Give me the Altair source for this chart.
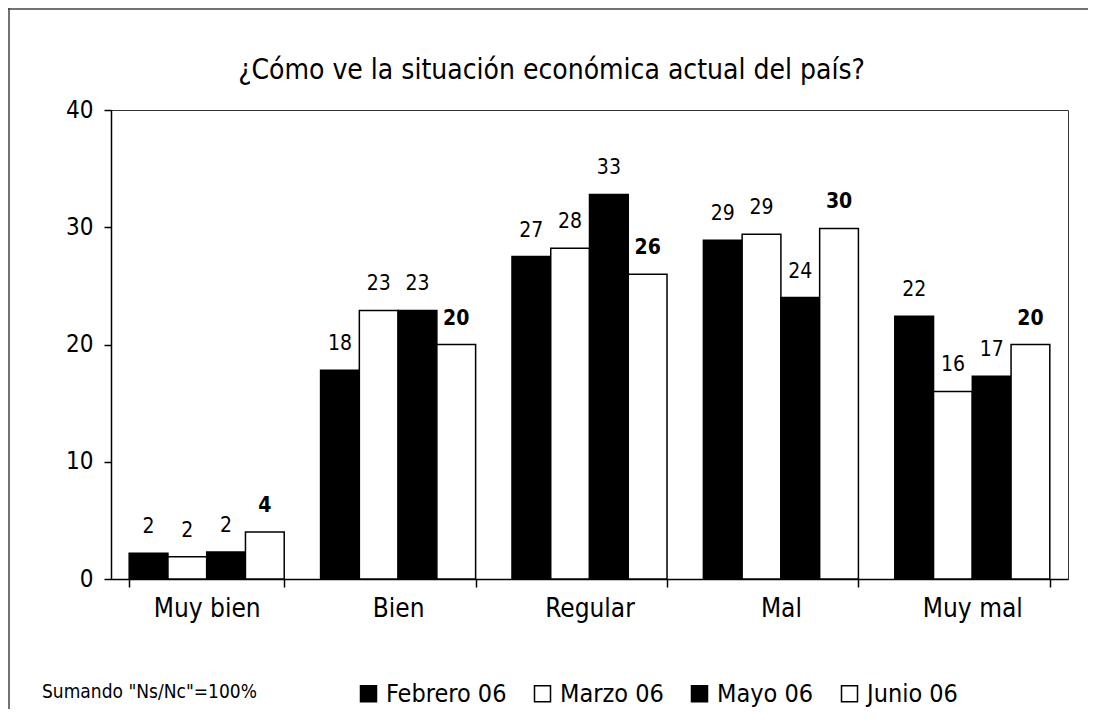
import altair as alt
import pandas as pd

categories = ["Muy bien", "Bien", "Regular", "Mal", "Muy mal"]
series = ["Febrero 06", "Marzo 06", "Mayo 06", "Junio 06"]
febrero = [2.2, 17.8, 27.5, 28.9, 22.4]
marzo = [1.9, 22.9, 28.2, 29.4, 16.0]
mayo = [2.3, 22.9, 32.8, 24.0, 17.3]
junio = [4.0, 20.0, 26.0, 29.9, 20.0]
febrero_lbl = [2, 18, 27, 29, 22]
marzo_lbl = [2, 23, 28, 29, 16]
mayo_lbl = [2, 23, 33, 24, 17]
junio_lbl = [4, 20, 26, 30, 20]
fills = ["#000000", "#ffffff", "#000000", "#ffffff"]
y_ticks = [0, 10, 20, 30, 40]
title_text = "¿Cómo ve la situación económica actual del país?"
note_text = 'Sumando "Ns/Nc"=100%'

FONT = "DejaVu Sans Condensed, DejaVu Sans"

rows = []
for s, vals, lbls in zip(series, [febrero, marzo, mayo, junio],
                         [febrero_lbl, marzo_lbl, mayo_lbl, junio_lbl]):
    for c, v, l in zip(categories, vals, lbls):
        rows.append({"cat": c, "serie": s, "valor": v, "etiqueta": str(l)})
df = pd.DataFrame(rows)

x_enc = alt.X(
    "cat:N", sort=categories,
    scale=alt.Scale(paddingInner=0.19, paddingOuter=0.095),
    axis=alt.Axis(title=None, labelAngle=0, tickBand="extent", tickSize=8,
                  labelPadding=8, labelFontSize=26, labelFont=FONT,
                  labelColor="black", domainColor="black", tickColor="black",
                  domainWidth=1.5, tickWidth=1.5),
)
xo_enc = alt.XOffset("serie:N", sort=series,
                     scale=alt.Scale(paddingInner=0, paddingOuter=0))
y_enc = alt.Y(
    "valor:Q",
    scale=alt.Scale(domain=[0, 40], nice=False),
    axis=alt.Axis(title=None, values=y_ticks, grid=False, tickSize=7,
                  labelPadding=11, labelFontSize=24, labelFont=FONT,
                  labelColor="black", domainColor="black", tickColor="black",
                  domainWidth=1.5, tickWidth=1.5),
)

base = alt.Chart(df)

bars = base.mark_bar(stroke="black", strokeWidth=1.5).encode(
    x=x_enc, xOffset=xo_enc, y=y_enc,
    color=alt.Color(
        "serie:N", sort=series,
        scale=alt.Scale(domain=series, range=fills),
        legend=alt.Legend(
            title=None, orient="none", direction="horizontal", columns=4,
            legendX=245, legendY=571, symbolType="square", symbolSize=256,
            symbolStrokeColor="black", symbolStrokeWidth=1.5,
            labelFontSize=25, labelFont=FONT, labelColor="black",
            labelOffset=5, columnPadding=23,
        ),
    ),
)

labels_normal = base.transform_filter(
    alt.datum.serie != "Junio 06"
).mark_text(baseline="bottom", dy=-16, fontSize=21, font=FONT,
            color="black").encode(
    x=alt.X("cat:N", sort=categories), xOffset=alt.XOffset("serie:N", sort=series),
    y="valor:Q", text="etiqueta:N",
)
labels_bold = base.transform_filter(
    alt.datum.serie == "Junio 06"
).mark_text(baseline="bottom", dy=-16, fontSize=21, font=FONT,
            fontWeight="bold", color="black").encode(
    x=alt.X("cat:N", sort=categories), xOffset=alt.XOffset("serie:N", sort=series),
    y="valor:Q", text="etiqueta:N",
)

note = alt.Chart(pd.DataFrame({"t": [note_text]})).mark_text(
    align="left", baseline="middle", fontSize=19, font=FONT, color="black"
).encode(x=alt.value(-69), y=alt.value(582), text="t:N")

frame_df = pd.DataFrame({"k": [1]})
frame_left = alt.Chart(frame_df).mark_rule(color="#444", strokeWidth=1.5).encode(
    x=alt.value(-102), y=alt.value(-102), y2=alt.value(600))
frame_top = alt.Chart(frame_df).mark_rule(color="#444", strokeWidth=1.5).encode(
    x=alt.value(-103), x2=alt.value(980), y=alt.value(-101))

chart = alt.layer(bars, labels_normal, labels_bold, note, frame_left, frame_top).properties(
    width=957, height=469,
    title=alt.TitleParams(text=title_text, fontSize=28, font=FONT,
                          fontWeight="normal", color="black", anchor="middle",
                          frame="group", baseline="alphabetic",
                          dx=-38, dy=100, offset=0),
    padding={"left": 103, "top": 102, "right": 20, "bottom": 130},
    autosize=alt.AutoSizeParams(type="none"),
).configure_view(stroke="#333", strokeWidth=1)

chart.save("out.html", embed_options={"renderer": "svg", "actions": False})
